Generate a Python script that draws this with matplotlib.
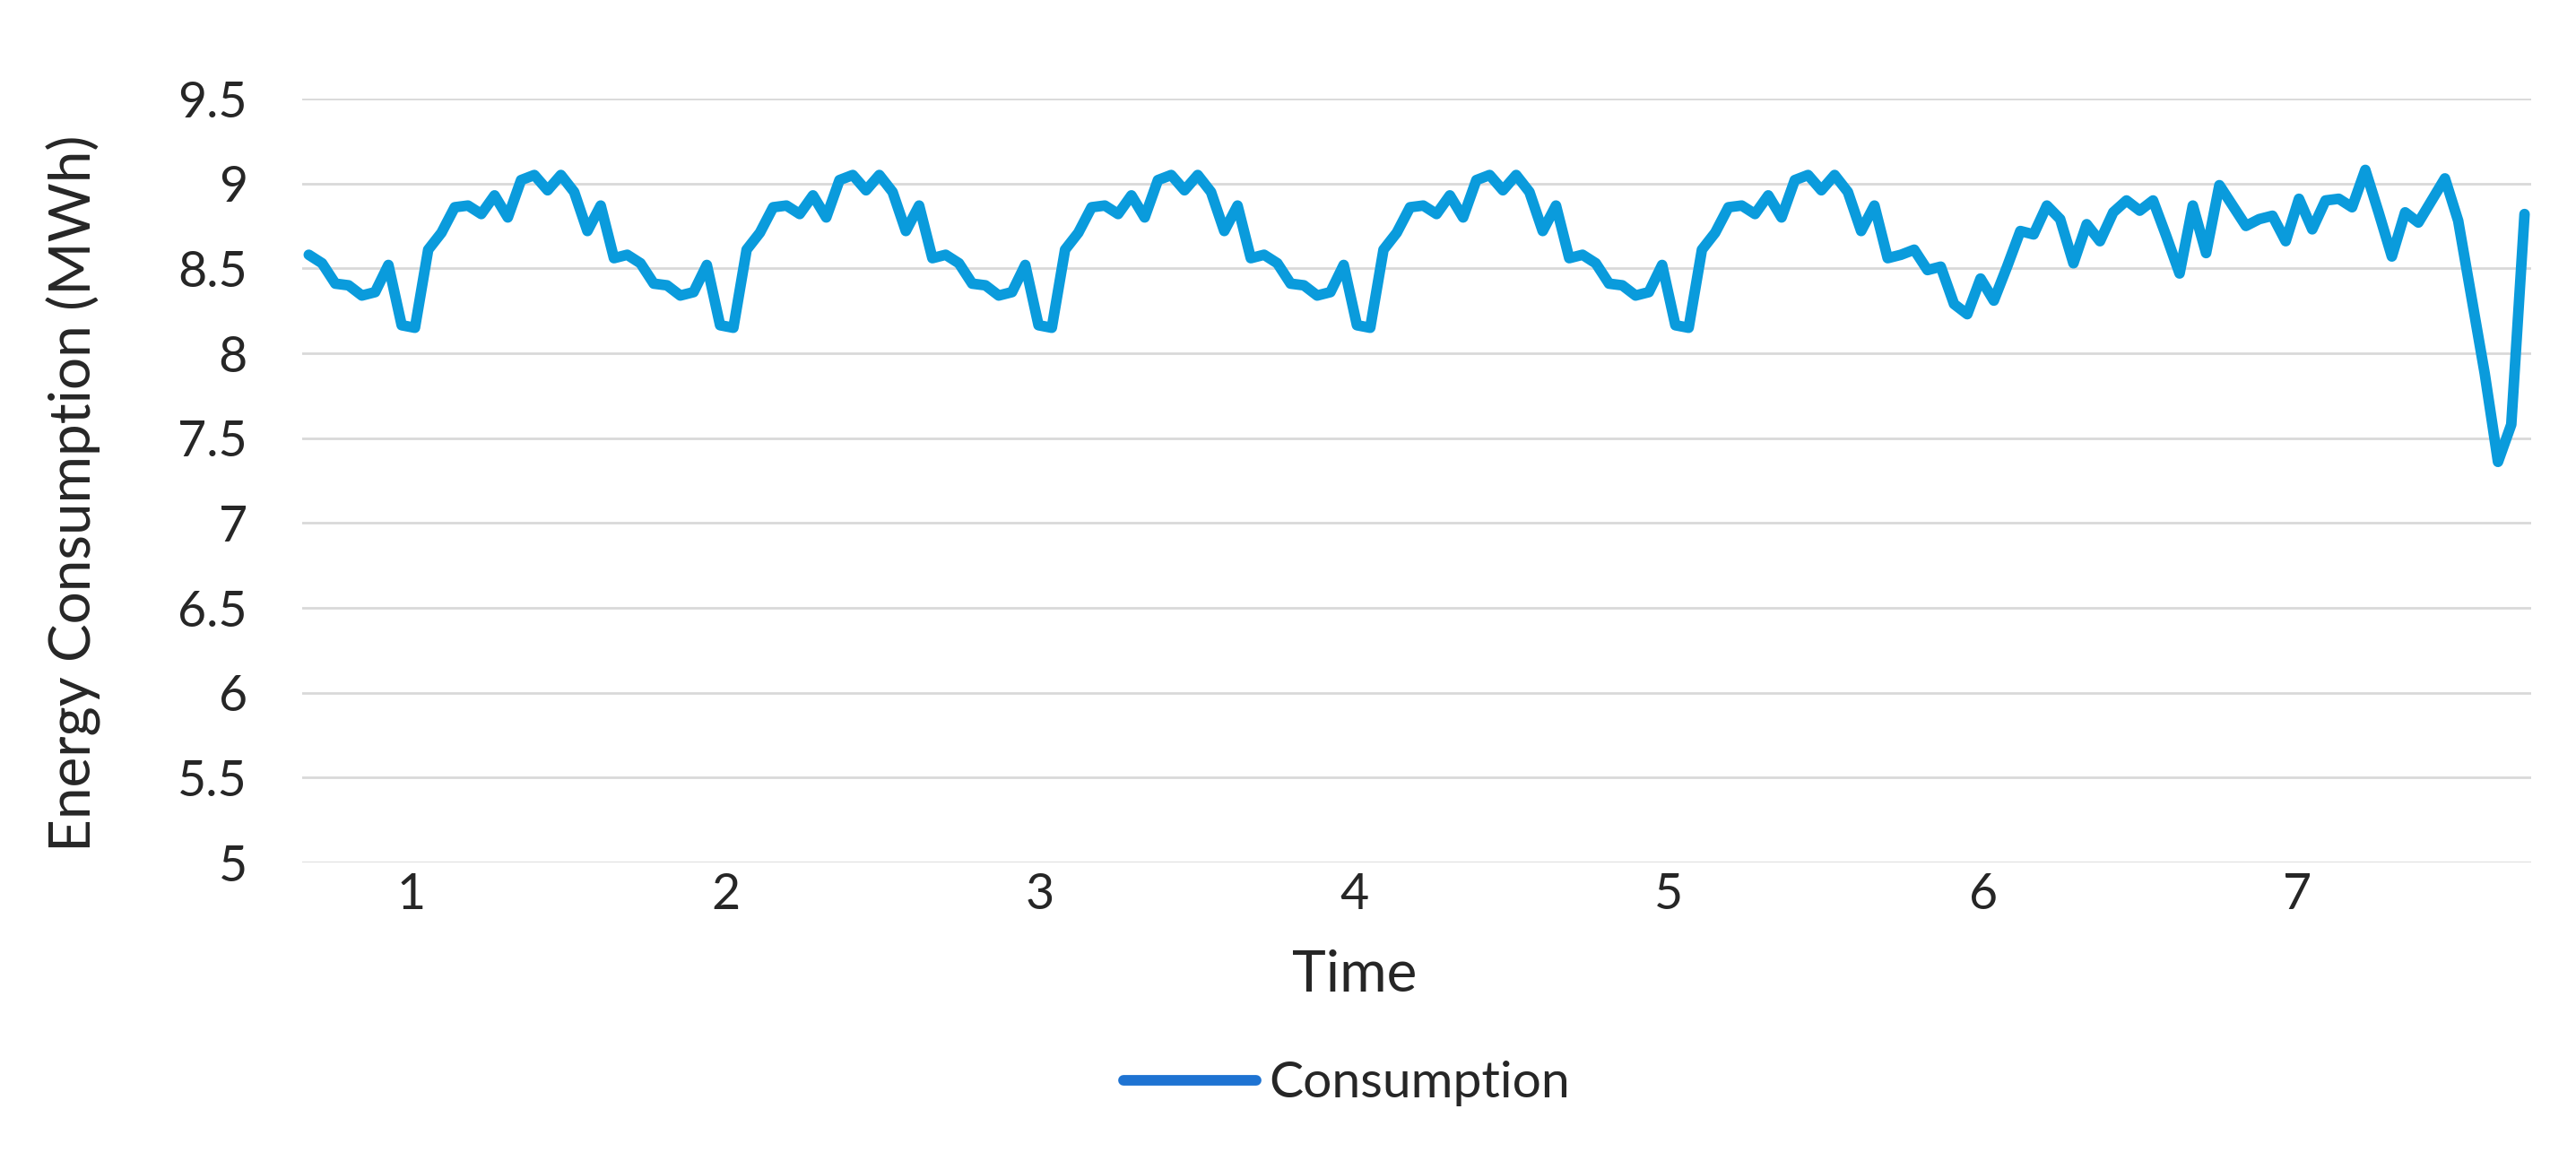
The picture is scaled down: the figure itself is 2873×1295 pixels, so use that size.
import matplotlib
matplotlib.use("Agg")
import matplotlib.pyplot as plt
from matplotlib.lines import Line2D
from matplotlib.ticker import FuncFormatter, MultipleLocator

# ---- data (hourly consumption, MWh) ----
day1 = [8.58, 8.53, 8.41, 8.40, 8.34, 8.36, 8.52, 8.165, 8.15, 8.61, 8.71, 8.86,
        8.87, 8.82, 8.93, 8.80, 9.02, 9.05, 8.96, 9.05, 8.95, 8.72, 8.87, 8.56]
day2 = [8.58, 8.53, 8.41, 8.40, 8.34, 8.36, 8.52, 8.165, 8.15, 8.61, 8.71, 8.86,
        8.87, 8.82, 8.93, 8.80, 9.02, 9.05, 8.96, 9.05, 8.95, 8.72, 8.87, 8.56]
day3 = [8.58, 8.53, 8.41, 8.40, 8.34, 8.36, 8.52, 8.165, 8.15, 8.61, 8.71, 8.86,
        8.87, 8.82, 8.93, 8.80, 9.02, 9.05, 8.96, 9.05, 8.95, 8.72, 8.87, 8.56]
day4 = [8.58, 8.53, 8.41, 8.40, 8.34, 8.36, 8.52, 8.165, 8.15, 8.61, 8.71, 8.86,
        8.87, 8.82, 8.93, 8.80, 9.02, 9.05, 8.96, 9.05, 8.95, 8.72, 8.87, 8.56]
day5 = [8.58, 8.53, 8.41, 8.40, 8.34, 8.36, 8.52, 8.165, 8.15, 8.61, 8.71, 8.86,
        8.87, 8.82, 8.93, 8.80, 9.02, 9.05, 8.96, 9.05, 8.95, 8.72, 8.87, 8.56]
day6 = [8.58, 8.61, 8.49, 8.51, 8.29, 8.23, 8.44, 8.31, 8.51, 8.72, 8.70, 8.87,
        8.79, 8.53, 8.76, 8.66, 8.83, 8.90, 8.84, 8.90, 8.69, 8.47, 8.87, 8.59]
day7 = [8.99, 8.87, 8.75, 8.79, 8.81, 8.66, 8.91, 8.73, 8.90, 8.91, 8.86, 9.08,
        8.83, 8.57, 8.83, 8.77, 8.90, 9.03, 8.78, 8.33, 7.88, 7.36, 7.58, 8.82]

consumption = day1 + day2 + day3 + day4 + day5 + day6 + day7
hours = list(range(len(consumption)))

day_labels = ["1", "2", "3", "4", "5", "6", "7"]
day_label_hours = [7.7, 31.4, 55.1, 78.8, 102.5, 126.2, 149.9]

# ---- styling ----
FONT = ["Lato", "DejaVu Sans"]
TXT = "#262626"
LINE = "#0A9BDC"
LEG_LINE = "#1E73D2"
GRID = "#D9D9D9"

W, H, DPI = 2873, 1295, 100
fig = plt.figure(figsize=(W / DPI, H / DPI), dpi=DPI)
fig.patch.set_facecolor("white")

left, right, top, bottom = 337, 2823, 110, 962
ax = fig.add_axes([left / W, 1 - bottom / H, (right - left) / W, (bottom - top) / H])

ax.plot(hours, consumption, color=LINE, lw=8.5, solid_joinstyle="round",
        solid_capstyle="round", zorder=3, clip_on=False)

ax.set_xlim(-0.5, len(consumption) - 0.5)
ax.set_ylim(5, 9.5)
ax.yaxis.set_major_locator(MultipleLocator(0.5))
ax.yaxis.set_major_formatter(FuncFormatter(lambda v, p: f"{v:g}"))
ax.set_xticks(day_label_hours)
ax.set_xticklabels(day_labels)

ax.grid(axis="y", color=GRID, lw=2.0, zorder=0)
ax.grid(axis="x", visible=False)
for s in ax.spines.values():
    s.set_visible(False)

ax.tick_params(axis="both", length=0, colors=TXT, labelsize=40)
ax.tick_params(axis="y", pad=44)
ax.tick_params(axis="x", pad=8)
for lab in ax.get_xticklabels() + ax.get_yticklabels():
    lab.set_family(FONT)

fig.text(1511 / W, 1 - 1088 / H, "Time", ha="center", va="center",
         fontsize=46, color=TXT, family=FONT)
fig.text(82 / W, 1 - 550 / H, "Energy Consumption (MWh)", ha="center", va="center",
         rotation=90, fontsize=46, color=TXT, family=FONT)

handle = Line2D([], [], color=LEG_LINE, lw=8.5, solid_capstyle="round")
leg = fig.legend([handle], ["Consumption"], loc="center",
                 bbox_to_anchor=(1502 / W, 1 - 1209 / H), frameon=False,
                 handlelength=2.6, handletextpad=0.25,
                 prop={"family": FONT, "size": 41})
for t in leg.get_texts():
    t.set_color(TXT)

fig.savefig("out.png", dpi=DPI, facecolor="white")
